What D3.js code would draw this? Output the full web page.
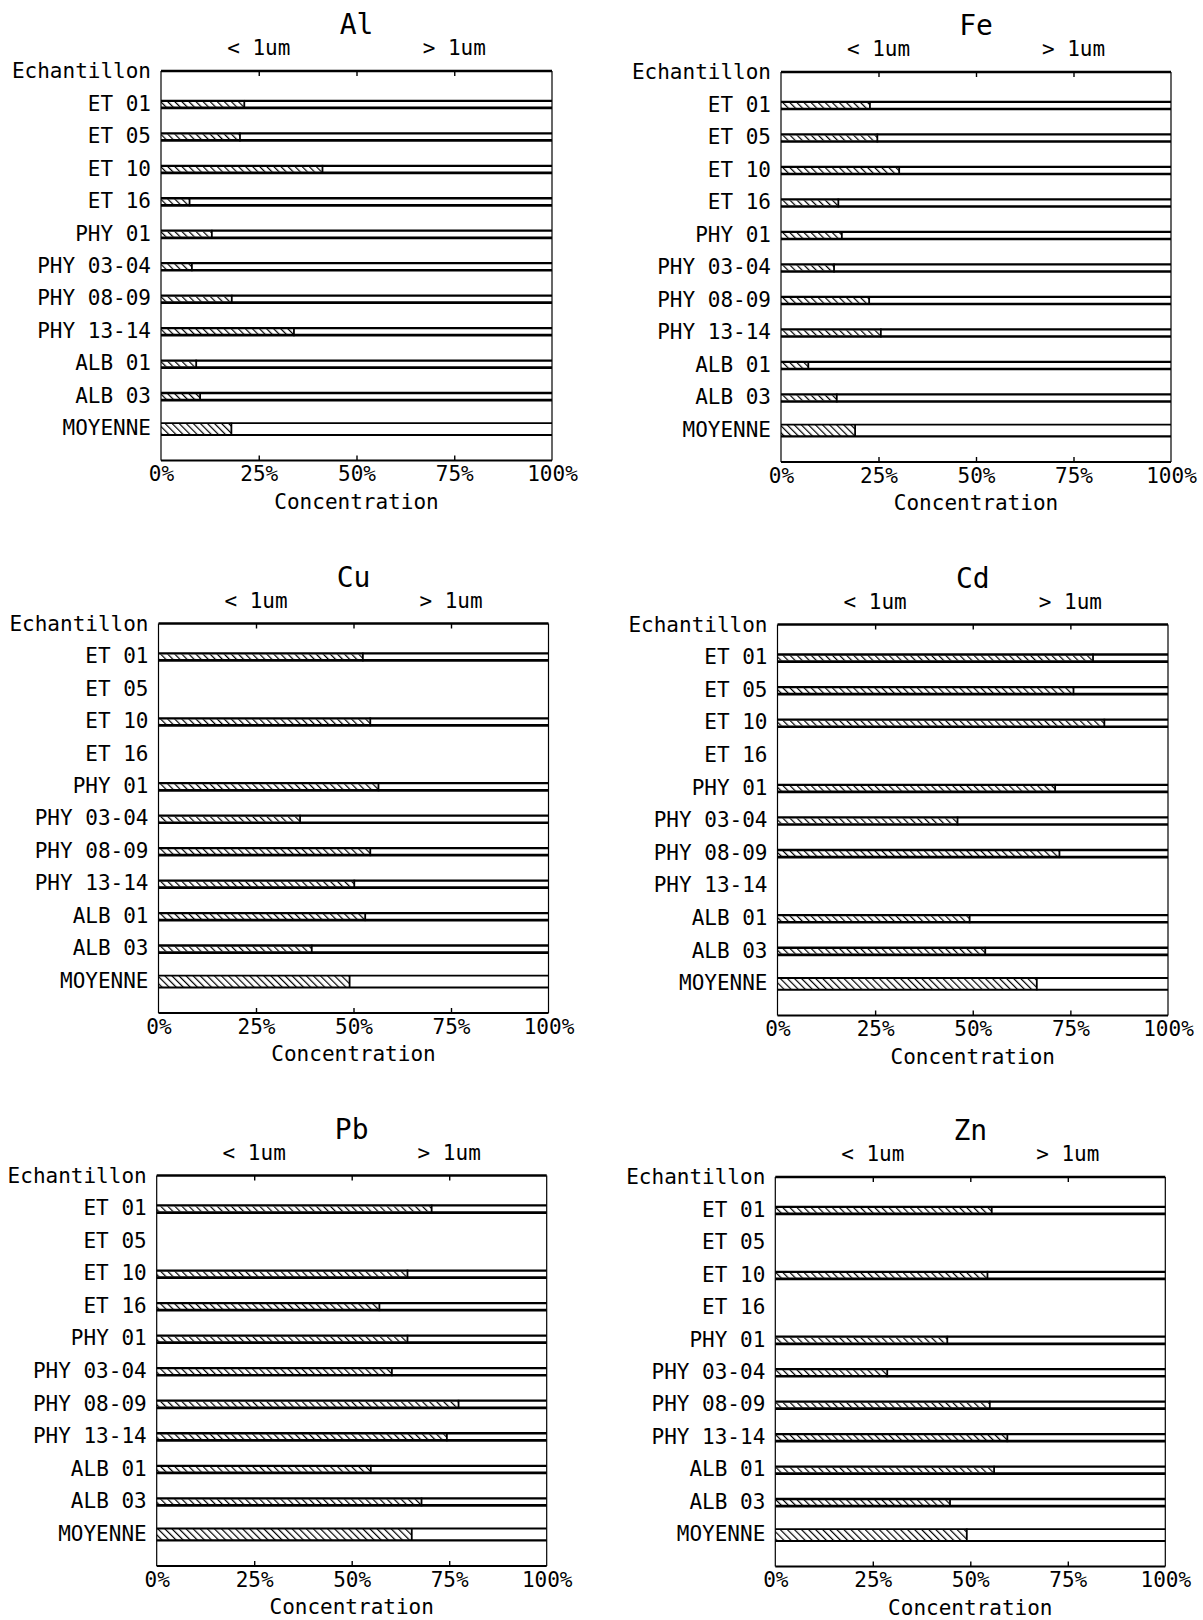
<!DOCTYPE html>
<html><head><meta charset="utf-8">
<script src="https://cdn.jsdelivr.net/npm/d3@7"></script>
<style>
html,body{margin:0;padding:0;background:#fff;}
svg{display:block;}
text{font-family:"DejaVu Sans Mono",monospace;fill:#000;}
</style></head><body>
<svg id="chart" width="1203" height="1620"></svg>
<script>
// Samples (rows of every panel)
const categories = ["ET 01","ET 05","ET 10","ET 16","PHY 01","PHY 03-04","PHY 08-09","PHY 13-14","ALB 01","ALB 03","MOYENNE"];
const elements = ["Al","Fe","Cu","Cd","Pb","Zn"];
// Share of the fine fraction (< 1 um), in percent of the total; null = no value
const fineAl = [21.3,20.2,41.3,7.3,13.0,7.9,18.1,34.0,9.0,10.0,18.0];
const fineFe = [22.8,24.7,30.3,14.7,15.6,13.6,22.6,25.6,7.0,14.3,19.0];
const fineCu = [52.4,null,54.3,null,56.4,36.3,54.3,50.2,53.0,39.3,49.0];
const fineCd = [80.8,75.8,83.7,null,71.1,46.1,72.2,null,49.2,53.2,66.4];
const finePb = [70.5,null,64.3,57.1,64.3,60.3,77.4,74.4,54.9,67.9,65.4];
const fineZn = [55.5,null,54.4,null,44.1,28.7,55.0,59.5,56.1,44.8,49.1];
const tickValues = [0,25,50,75,100];
const fractionLabels = ["< 1um","> 1um"];
const headerLabel = "Echantillon";
const axisTitle = "Concentration";

const seriesByElement = {Al:fineAl, Fe:fineFe, Cu:fineCu, Cd:fineCd, Pb:finePb, Zn:fineZn};

// plot boxes of the six panels (2 columns x 3 rows)
const boxes = [
  {x0:161,   x1:552,   y0:71,     y1:460.5},
  {x0:781,   x1:1171,  y0:72,     y1:462},
  {x0:158.5, x1:548.5, y0:623.5,  y1:1013},
  {x0:777.5, x1:1168,  y0:624.5,  y1:1015.5},
  {x0:156.7, x1:546.7, y0:1175.5, y1:1566},
  {x0:775.3, x1:1165.3,y0:1177,   y1:1566.5}
];

const svg = d3.select("#chart");
const FONT = 21;

// diagonal hatching for the fine fraction
const defs = svg.append("defs");
defs.append("pattern")
  .attr("id","hatch")
  .attr("patternUnits","userSpaceOnUse")
  .attr("width",5).attr("height",5)
  .attr("patternTransform","rotate(-45)")
  .append("line")
  .attr("x1",0).attr("y1",-1).attr("x2",0).attr("y2",6)
  .attr("stroke","#000").attr("stroke-width",2.4);

elements.forEach((el, k) => {
  const b = boxes[k];
  const values = seriesByElement[el];
  const g = svg.append("g");

  const x = d3.scaleLinear().domain([0,100]).range([b.x0, b.x1]);
  const rowKeys = [headerLabel, ...categories, ""];
  const y = d3.scalePoint().domain(rowKeys).range([b.y0, b.y1]).padding(0);

  // title and fraction headings
  g.append("text")
    .attr("x", (b.x0+b.x1)/2).attr("y", b.y0-37)
    .attr("text-anchor","middle").style("font-size","28px")
    .text(el);
  g.selectAll("text.frac").data(fractionLabels).join("text")
    .attr("class","frac")
    .attr("x",(d,i)=>x(i===0?25:75)).attr("y", b.y0-16)
    .attr("text-anchor","middle").style("font-size",FONT+"px")
    .text(d=>d);

  // bars
  const rows = categories.map((c,i)=>({cat:c, v:values[i], mean: c==="MOYENNE"}))
    .filter(d=>d.v!==null);
  const bars = g.selectAll("g.bar").data(rows).join("g").attr("class","bar")
    .attr("transform", d=>`translate(0,${y(d.cat)+1})`);

  bars.append("rect")
    .attr("x", x(0)).attr("width", d=>x(d.v)-x(0))
    .attr("y", d=>d.mean?-5.5:-2.6).attr("height", d=>d.mean?11:5)
    .attr("fill","url(#hatch)");
  bars.append("rect")
    .attr("x", d=>x(d.v)).attr("width", d=>x(100)-x(d.v))
    .attr("y", d=>d.mean?-5.5:-2.6).attr("height", d=>d.mean?11:5)
    .attr("fill","#fff");
  // top and bottom edges
  bars.append("line")
    .attr("x1",x(0)).attr("x2",x(100))
    .attr("y1",d=>d.mean?-5.9:-3.6).attr("y2",d=>d.mean?-5.9:-3.6)
    .attr("stroke","#000").attr("stroke-width",d=>d.mean?1.9:2.3);
  bars.append("line")
    .attr("x1",x(0)).attr("x2",x(100))
    .attr("y1",d=>d.mean?5.9:3.5).attr("y2",d=>d.mean?5.9:3.5)
    .attr("stroke","#000").attr("stroke-width",d=>d.mean?2.1:2.7);
  // boundary between the two fractions
  bars.append("line")
    .attr("x1",d=>x(d.v)).attr("x2",d=>x(d.v))
    .attr("y1",d=>d.mean?-6.5:-4.5).attr("y2",d=>d.mean?6.5:4.5)
    .attr("stroke","#000").attr("stroke-width",1.8);

  // frame
  g.append("line").attr("x1",b.x0).attr("x2",b.x0).attr("y1",b.y0).attr("y2",b.y1)
    .attr("stroke","#000").attr("stroke-width",1.2);
  g.append("line").attr("x1",b.x1).attr("x2",b.x1).attr("y1",b.y0).attr("y2",b.y1)
    .attr("stroke","#000").attr("stroke-width",1.2);
  g.append("line").attr("x1",b.x0).attr("x2",b.x1).attr("y1",b.y0).attr("y2",b.y0)
    .attr("stroke","#000").attr("stroke-width",2.4);
  g.append("line").attr("x1",b.x0).attr("x2",b.x1).attr("y1",b.y1).attr("y2",b.y1)
    .attr("stroke","#000").attr("stroke-width",2);

  // top axis: inner ticks only
  const top = g.append("g").attr("transform",`translate(0,${b.y0})`)
    .call(d3.axisTop(x).tickValues(tickValues.slice(1,-1)).tickSize(-5).tickFormat(""));
  top.select(".domain").remove();
  top.selectAll("line").attr("stroke-width",1.4);

  // bottom axis
  const bottom = g.append("g").attr("transform",`translate(0,${b.y1})`)
    .call(d3.axisBottom(x).tickValues(tickValues).tickSize(-5).tickSizeOuter(0).tickPadding(6)
      .tickFormat(d=>d+"%"));
  bottom.select(".domain").remove();
  bottom.selectAll("line").attr("stroke-width",1.4)
    .attr("display",d=>(d===0||d===100)?"none":null);
  bottom.selectAll("text").style("font-size",FONT+"px").attr("fill","#000")
    .style("font-family","\"DejaVu Sans Mono\",monospace");

  // left axis: sample names
  const left = g.append("g").attr("transform",`translate(${b.x0},0)`)
    .call(d3.axisLeft(y).tickValues(rowKeys.slice(0,-1)).tickSize(0).tickPadding(10));
  left.select(".domain").remove();
  left.selectAll("text").style("font-size",FONT+"px").attr("fill","#000")
    .style("font-family","\"DejaVu Sans Mono\",monospace");

  // axis title
  g.append("text")
    .attr("x",(b.x0+b.x1)/2).attr("y", b.y1+48)
    .attr("text-anchor","middle").style("font-size",FONT+"px")
    .text(axisTitle);
});
</script>
</body></html>
